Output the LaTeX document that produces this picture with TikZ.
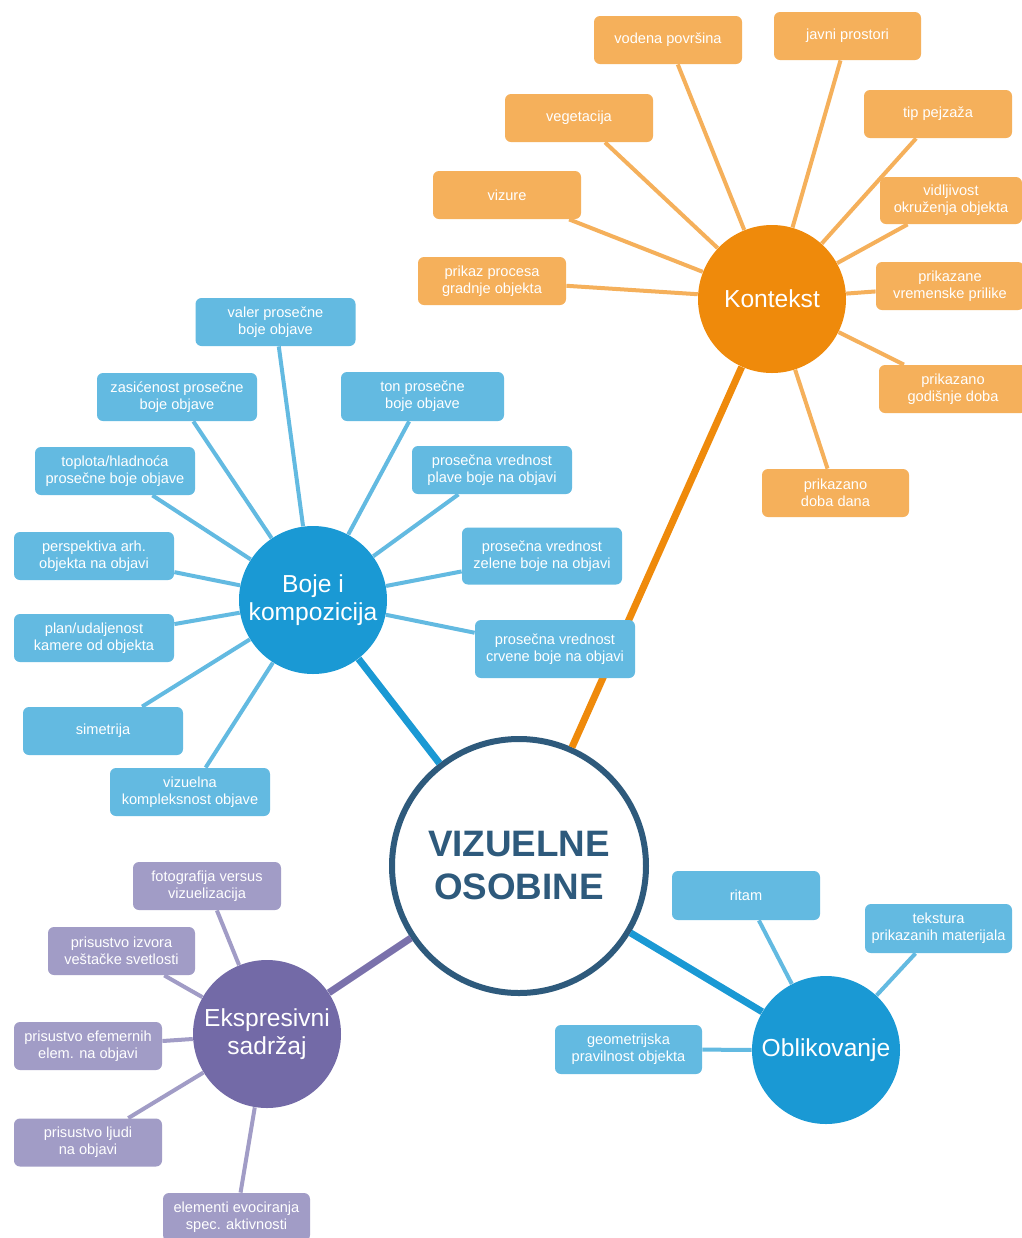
\documentclass[tikz,border=0pt]{standalone}
\usepackage{fontspec}
\setmainfont{Liberation Sans}
\definecolor{orC}{HTML}{EF8A0B}
\definecolor{orB}{HTML}{F5B05B}
\definecolor{blC}{HTML}{1A99D4}
\definecolor{blB}{HTML}{63BAE1}
\definecolor{puC}{HTML}{736AA7}
\definecolor{puB}{HTML}{A19CC6}
\definecolor{dkB}{HTML}{2E5A7C}
\tikzset{
  box/.style={rectangle, rounded corners=3pt, text=white, align=center,
    font=\fontsize{7.3pt}{8.6pt}\selectfont, inner sep=0pt,
    minimum width=74pt, minimum height=24pt},
  obox/.style={box, fill=orB},
  bbox/.style={box, fill=blB},
  pbox/.style={box, fill=puB},
  hub/.style={circle, text=white, align=center, inner sep=0pt,
    minimum size=74pt, font=\fontsize{12.3pt}{14.3pt}\selectfont},
  oline/.style={draw=orB, line width=2pt},
  bline/.style={draw=blB, line width=2pt},
  pline/.style={draw=puB, line width=2pt},
  mline/.style={line width=3.5pt},
}
\begin{document}
\begin{tikzpicture}[x=0.5pt,y=-0.5pt]
\fill[white] (0,0) rectangle (1022,1238);
\useasboundingbox (0,0) rectangle (1022,1238);

% central
\node[circle, draw=dkB, line width=3pt, fill=white, minimum size=127pt, inner sep=0pt,
  text=dkB, align=center, font=\fontsize{18.4pt}{21.5pt}\selectfont\bfseries]
  (c) at (519,866) {VIZUELNE\\OSOBINE};

% hubs
\node[hub, fill=orC] (k) at (772,299) {Kontekst};
\node[hub, fill=blC] (b) at (313,600) {Boje i\\kompozicija};
\node[hub, fill=puC] (e) at (267,1034) {Ekspresivni\\sadržaj};
\node[hub, fill=blC] (o) at (826,1050) {Oblikovanje};

% main connectors
\draw[mline, draw=orC] (k) -- (c);
\draw[mline, draw=blC] (b) -- (c);
\draw[mline, draw=puC!95!white] (e) -- (c);
\draw[mline, draw=blC] (o) -- (c);

% Kontekst children
\node[obox] (k1) at (668,40) {vodena površina};
\node[obox, minimum width=73.5pt] (k2) at (847.5,36) {javni prostori};
\node[obox] (k3) at (579,118) {vegetacija};
\node[obox] (k4) at (938,114) {tip pejzaža};
\node[obox] (k5) at (507,195) {vizure};
\node[obox, minimum width=71pt, minimum height=23.5pt] (k6) at (951,200.5) {vidljivost\\okruženja objekta};
\node[obox] (k7) at (492,281) {prikaz procesa\\gradnje objekta};
\node[obox] (k8) at (950,286) {prikazane\\vremenske prilike};
\node[obox] (k9) at (953,389) {prikazano\\godišnje doba};
\node[obox, minimum width=73.5pt] (k10) at (835.5,493) {prikazano\\doba dana};
\foreach \n in {k1,k2,k3,k4,k5,k6,k7,k8,k9,k10} \draw[oline] (\n) -- (k);

% Boje children
\node[bbox, minimum width=80pt] (b1) at (275.5,322) {valer prosečne\\boje objave};
\node[bbox, minimum width=80pt] (b2) at (177,397) {zasićenost prosečne\\boje objave};
\node[bbox, minimum width=80pt] (b3) at (115,471) {toplota/hladnoća\\prosečne boje objave};
\node[bbox, minimum width=81.5pt, minimum height=24.5pt] (b4) at (422.5,396.5) {ton prosečne\\boje objave};
\node[bbox, minimum width=80pt] (b5) at (492,470) {prosečna vrednost\\plave boje na objavi};
\node[bbox, minimum width=80pt] (b6) at (94,556) {perspektiva arh.\\objekta na objavi};
\node[bbox, minimum width=80pt, minimum height=28.5pt] (b7) at (542,556) {prosečna vrednost\\zelene boje na objavi};
\node[bbox, minimum width=80pt] (b8) at (94,638) {plan/udaljenost\\kamere od objekta};
\node[bbox, minimum width=80pt, minimum height=29pt] (b9) at (555,649) {prosečna vrednost\\crvene boje na objavi};
\node[bbox, minimum width=80pt] (b10) at (103,731) {simetrija};
\node[bbox, minimum width=80pt] (b11) at (190,792) {vizuelna\\kompleksnost objave};
\foreach \n in {b1,b2,b3,b4,b5,b6,b7,b8,b9,b10,b11} \draw[bline] (\n) -- (b);

% Ekspresivni children
\node[pbox] (e1) at (207,886) {fotografija versus\\vizuelizacija};
\node[pbox, minimum width=73.5pt] (e2) at (121.5,951) {prisustvo izvora\\veštačke svetlosti};
\node[pbox] (e3) at (88,1046) {prisustvo efemernih\\elem. na objavi};
\node[pbox] (e4) at (88,1142.5) {prisustvo ljudi\\na objavi};
\node[pbox, minimum width=73.5pt] (e5) at (236.5,1217) {elementi evociranja\\spec. aktivnosti};
\foreach \n in {e1,e2,e3,e4,e5} \draw[pline] (\n) -- (e);

% Oblikovanje children
\node[bbox, minimum height=24.5pt] (o1) at (746,895.5) {ritam};
\node[bbox, minimum width=73.5pt, minimum height=24.5pt] (o2) at (938.5,928.5) {tekstura\\prikazanih materijala};
\node[bbox, minimum width=73.5pt, minimum height=24.5pt] (o3) at (628.5,1049.5) {geometrijska\\pravilnost objekta};
\foreach \n in {o1,o2,o3} \draw[bline] (\n) -- (o);
\end{tikzpicture}
\end{document}
